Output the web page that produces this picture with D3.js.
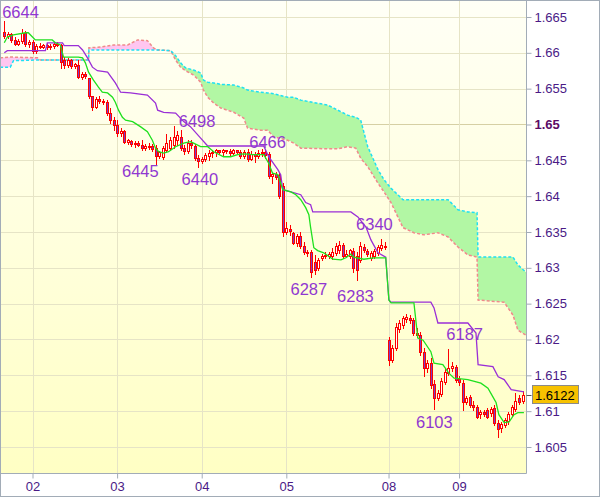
<!DOCTYPE html>
<html><head><meta charset="utf-8">
<script src="https://cdn.jsdelivr.net/npm/d3@7"></script>
<style>html,body{margin:0;padding:0;background:#fff;}svg{display:block;}</style>
</head><body>
<svg id="chart" width="600" height="497"></svg>
<script>
// ---- DATA ----
const opens = [1.6629,1.6624,1.6626,1.6618,1.6612,1.6617,1.6628,1.6612,1.6615,1.6603,
1.6610,1.6608,1.6611,1.6608,1.6610,1.6612,1.6611,1.6590,1.6583,1.6590,
1.6582,1.6583,1.6566,1.6570,1.6565,1.6540,1.6524,1.6536,1.6533,1.6531,
1.6516,1.6506,1.6499,1.6488,1.6491,1.6476,1.6477,1.6473,1.6474,1.6471,
1.6467,1.6470,1.6470,1.6467,1.6456,1.6455,1.6464,1.6467,1.6471,1.6478,
1.6483,1.6467,1.6463,1.6474,1.6470,1.6453,1.6449,1.6452,1.6456,1.6460,
1.6462,1.6464,1.6462,1.6464,1.6463,1.6460,1.6464,1.6462,1.6456,1.6462,
1.6452,1.6459,1.6456,1.6460,1.6462,1.6459,1.6428,1.6431,1.6430,1.6414,
1.6350,1.6354,1.6349,1.6335,1.6344,1.6330,1.6322,1.6322,1.6308,1.6300,
1.6314,1.6317,1.6317,1.6317,1.6321,1.6325,1.6332,1.6317,1.6317,1.6324,
1.6317,1.6311,1.6329,1.6324,1.6314,1.6317,1.6321,1.6328,1.6330,1.6199,
1.6171,1.6188,1.6215,1.6220,1.6229,1.6230,1.6227,1.6209,1.6206,1.6183,
1.6160,1.6167,1.6138,1.6118,1.6124,1.6141,1.6153,1.6160,1.6162,1.6145,
1.6139,1.6113,1.6120,1.6109,1.6106,1.6096,1.6099,1.6102,1.6098,1.6105,
1.6084,1.6077,1.6081,1.6086,1.6096,1.6103,1.6118,1.6114];
const highs = [1.6644,1.6629,1.6628,1.6622,1.6619,1.6633,1.6630,1.6618,1.6618,1.6612,
1.6614,1.6612,1.6614,1.6612,1.6615,1.6615,1.6612,1.6594,1.6593,1.6591,
1.6586,1.6590,1.6573,1.6573,1.6565,1.6540,1.6538,1.6540,1.6536,1.6534,
1.6523,1.6510,1.6506,1.6495,1.6492,1.6480,1.6478,1.6477,1.6477,1.6478,
1.6473,1.6474,1.6473,1.6471,1.6463,1.6470,1.6487,1.6483,1.6498,1.6491,
1.6492,1.6471,1.6478,1.6478,1.6473,1.6458,1.6455,1.6460,1.6464,1.6464,
1.6466,1.6465,1.6466,1.6465,1.6466,1.6466,1.6465,1.6464,1.6464,1.6466,
1.6463,1.6462,1.6464,1.6466,1.6464,1.6462,1.6434,1.6434,1.6434,1.6418,
1.6364,1.6360,1.6350,1.6347,1.6350,1.6336,1.6325,1.6325,1.6318,1.6314,
1.6319,1.6322,1.6322,1.6328,1.6335,1.6337,1.6335,1.6325,1.6326,1.6328,
1.6322,1.6336,1.6333,1.6326,1.6324,1.6326,1.6332,1.6340,1.6336,1.6204,
1.6192,1.6223,1.6227,1.6233,1.6236,1.6234,1.6230,1.6216,1.6211,1.6188,
1.6171,1.6174,1.6144,1.6130,1.6146,1.6160,1.6187,1.6169,1.6165,1.6149,
1.6144,1.6121,1.6123,1.6114,1.6109,1.6102,1.6102,1.6105,1.6106,1.6109,
1.6088,1.6085,1.6091,1.6099,1.6109,1.6125,1.6123,1.6128];
const lows = [1.6621,1.6621,1.6615,1.6611,1.6611,1.6614,1.6610,1.6608,1.6600,1.6600,
1.6607,1.6607,1.6605,1.6605,1.6607,1.6610,1.6579,1.6579,1.6580,1.6579,
1.6579,1.6565,1.6563,1.6565,1.6537,1.6520,1.6523,1.6530,1.6529,1.6513,
1.6502,1.6492,1.6484,1.6484,1.6474,1.6473,1.6470,1.6469,1.6470,1.6464,
1.6464,1.6466,1.6463,1.6445,1.6453,1.6452,1.6462,1.6464,1.6467,1.6471,
1.6464,1.6459,1.6460,1.6467,1.6450,1.6440,1.6446,1.6449,1.6450,1.6455,
1.6456,1.6459,1.6458,1.6460,1.6458,1.6459,1.6460,1.6453,1.6453,1.6449,
1.6450,1.6448,1.6453,1.6456,1.6453,1.6425,1.6418,1.6424,1.6397,1.6344,
1.6347,1.6346,1.6333,1.6330,1.6328,1.6319,1.6317,1.6287,1.6291,1.6297,
1.6311,1.6314,1.6314,1.6312,1.6318,1.6321,1.6314,1.6315,1.6314,1.6294,
1.6283,1.6308,1.6322,1.6317,1.6311,1.6314,1.6318,1.6325,1.6326,1.6165,
1.6169,1.6185,1.6211,1.6216,1.6225,1.6223,1.6206,1.6204,1.6178,1.6149,
1.6155,1.6132,1.6103,1.6116,1.6121,1.6138,1.6151,1.6156,1.6141,1.6137,
1.6102,1.6110,1.6106,1.6102,1.6091,1.6091,1.6093,1.6091,1.6093,1.6081,
1.6064,1.6071,1.6078,1.6082,1.6093,1.6100,1.6110,1.6112];
const closes = [1.6624,1.6626,1.6618,1.6612,1.6617,1.6628,1.6612,1.6615,1.6603,1.6610,
1.6608,1.6611,1.6608,1.6610,1.6612,1.6611,1.6587,1.6583,1.6590,1.6582,
1.6584,1.6566,1.6570,1.6568,1.6540,1.6524,1.6536,1.6533,1.6531,1.6516,
1.6506,1.6499,1.6488,1.6491,1.6476,1.6478,1.6473,1.6474,1.6471,1.6467,
1.6470,1.6469,1.6466,1.6456,1.6462,1.6467,1.6474,1.6478,1.6483,1.6485,
1.6467,1.6463,1.6474,1.6471,1.6453,1.6449,1.6452,1.6458,1.6460,1.6462,
1.6464,1.6462,1.6464,1.6463,1.6460,1.6464,1.6462,1.6456,1.6462,1.6452,
1.6459,1.6456,1.6460,1.6462,1.6458,1.6428,1.6431,1.6427,1.6400,1.6350,
1.6356,1.6351,1.6335,1.6344,1.6330,1.6322,1.6321,1.6294,1.6297,1.6311,
1.6317,1.6318,1.6319,1.6322,1.6330,1.6332,1.6317,1.6319,1.6325,1.6300,
1.6297,1.6330,1.6325,1.6319,1.6321,1.6324,1.6329,1.6332,1.6329,1.6171,
1.6188,1.6218,1.6223,1.6230,1.6232,1.6227,1.6209,1.6206,1.6183,1.6160,
1.6167,1.6137,1.6118,1.6125,1.6142,1.6155,1.6160,1.6163,1.6144,1.6141,
1.6113,1.6118,1.6109,1.6106,1.6092,1.6099,1.6096,1.6092,1.6103,1.6084,
1.6075,1.6082,1.6088,1.6096,1.6106,1.6114,1.6113,1.6122];

// Tenkan-sen (green) and Kijun-sen (purple): [candle index, price]
const tenkan = [[0,1.6614],[0.85,1.6622],[2.6,1.6625],[6,1.6628],[6.8,1.6628],[8,1.6622],[8.8,1.6618],[13.6,1.6618],[14.5,1.6614],[15.9,1.6611],[16.8,1.6594],[21,1.6594],[22.2,1.6593],[23,1.6586],[23.9,1.6573],[25.3,1.6562],[26.7,1.6552],[27.8,1.6545],[29.3,1.6544],[30.7,1.6538],[31.5,1.6531],[32.4,1.6520],[33.5,1.6510],[34.4,1.6506],[36.4,1.6504],[38.6,1.6497],[40.6,1.6490],[42,1.6478],[42.9,1.6467],[43.8,1.6462],[45.2,1.6460],[46.6,1.6462],[48.6,1.6469],[50.9,1.6474],[52.8,1.6476],[53.7,1.6474],[55.7,1.6469],[57.7,1.6469],[59.4,1.6462],[62.2,1.6455],[64.2,1.6455],[66.2,1.6458],[67.9,1.6459],[70.5,1.6458],[73.6,1.6458],[75,1.6446],[76.1,1.6432],[77.6,1.6430],[79,1.6409],[81.3,1.6406],[82.7,1.6402],[84.1,1.6395],[85.5,1.6384],[86.4,1.6374],[86.9,1.6356],[87.8,1.6328],[88.9,1.6324],[90.6,1.6321],[93.2,1.6312],[95.5,1.6311],[96.9,1.6314],[98.3,1.6319],[99.1,1.6315],[102,1.6312],[104.8,1.6314],[108.2,1.6314],[109.1,1.6255],[109.7,1.6251],[116.2,1.6251],[117.3,1.6202],[118.8,1.6199],[121,1.6183],[121.9,1.6167],[124.4,1.6165],[126.1,1.6153],[127.6,1.6146],[131.5,1.6144],[135.2,1.6139],[137.2,1.6132],[138.6,1.6120],[139.5,1.6112],[140.3,1.6095],[141.8,1.6084],[143.2,1.6085],[144.6,1.6095],[145.7,1.6098],[147.4,1.6098]];
const kijun = [[0,1.6600],[0.85,1.6603],[11.65,1.6603],[12.2,1.6614],[16.5,1.6614],[17,1.6610],[21,1.6610],[22.2,1.6604],[23.6,1.6593],[25,1.6580],[26.4,1.6575],[29.3,1.6573],[31.5,1.6558],[33,1.6545],[35.8,1.6544],[40.6,1.6541],[42.9,1.6530],[43.5,1.6520],[45.2,1.6517],[48.6,1.6516],[50.9,1.6504],[52.8,1.6497],[55.7,1.6481],[57.7,1.6470],[73.6,1.6470],[75,1.6455],[77.6,1.6437],[78.4,1.6430],[79,1.6409],[81.3,1.6406],[84.1,1.6402],[85.5,1.6391],[86.9,1.6388],[87.5,1.6378],[98.3,1.6378],[100.3,1.6371],[102.6,1.6357],[104,1.6339],[106,1.6321],[108.2,1.6315],[109.1,1.6255],[109.7,1.6252],[121,1.6252],[121.9,1.6244],[123,1.6223],[131.5,1.6223],[133.8,1.6209],[134.4,1.6165],[138.6,1.6162],[140.1,1.6148],[141.8,1.6144],[143.8,1.6130],[147.4,1.6127]];

// Cloud (Senkou span A = cyan, span B = salmon)
const cloudIdx = [-1.2,1.7,2.6,9.4,10.2,23.9,24.0,27.3,31,35,37.8,40.6,42.3,43.5,47.2,48.6,50,51.4,53.7,55.7,56.5,57.7,59.4,61.4,65.1,67.9,69,72.7,74.7,76.4,80.4,82.1,84.1,91.8,94.6,97.4,99.7,101.1,103.1,106,107.7,109.7,113.1,116.2,119,123,125.9,128.7,131.5,134.1,134.4,141.8,144.3,145.7,148.6];
const spanA = [1.6580,1.6580,1.6589,1.6590,1.6590,1.6590,1.6604,1.6604,1.6604,1.6604,1.6604,1.6604,1.6604,1.6604,1.6603,1.6596,1.6586,1.6579,1.6576,1.6572,1.6562,1.6559,1.6558,1.6556,1.6555,1.6551,1.6548,1.6545,1.6544,1.6543,1.6538,1.6538,1.6534,1.6527,1.6520,1.6513,1.6510,1.6506,1.6469,1.6437,1.6423,1.6411,1.6395,1.6395,1.6395,1.6395,1.6395,1.6381,1.6378,1.6377,1.6315,1.6315,1.6315,1.6304,1.6291];
const spanB = [1.6593,1.6594,1.6594,1.6593,1.6590,1.6590,1.6607,1.6608,1.6611,1.6611,1.6618,1.6617,1.6607,1.6604,1.6603,1.6590,1.6580,1.6575,1.6569,1.6559,1.6548,1.6538,1.6530,1.6523,1.6517,1.6509,1.6495,1.6492,1.6492,1.6483,1.6478,1.6474,1.6467,1.6466,1.6466,1.6469,1.6467,1.6453,1.6441,1.6418,1.6406,1.6391,1.6356,1.6349,1.6346,1.6349,1.6343,1.6329,1.6318,1.6315,1.6255,1.6252,1.6234,1.6213,1.6204];

// Axes
const dayTickIdx = [8,32,56,80,109,129];
const dayTickLabels = ["02","03","04","05","08","09"];
const priceTicks = [1.605,1.61,1.615,1.62,1.625,1.63,1.635,1.64,1.645,1.65,1.655,1.66,1.665];
const boldTick = 1.65;
const lastPrice = 1.6122;

// Swing labels: text, anchor index, anchor price (baseline)
const labelTexts = ["6644","6498","6445","6440","6466","6340","6287","6283","6187","6103"];
const labelIdx = [4.6,54.7,38.6,55.5,74.7,105.0,86.4,99.6,130.6,122.0];
const labelLevel = [1.6649,1.6497,1.6427,1.6416,1.6467,1.6353,1.6262,1.6252,1.6199,1.6077];

// ---- DRAW ----
const W = 600, H = 497;
const plotR = 526.5, plotB = 473.5;
const svg = d3.select("#chart");
const x = d3.scaleLinear().domain([0,147]).range([4.3,522.5]);
const y = d3.scaleLinear().domain([1.60137,1.66737]).range([473,0]);

svg.append("rect").attr("width",W).attr("height",H).attr("fill","#fff");
const defs = svg.append("defs");
const grad = defs.append("linearGradient").attr("id","bg").attr("x1",0).attr("y1",0).attr("x2",0).attr("y2",1);
grad.append("stop").attr("offset","0%").attr("stop-color","#fffff6");
grad.append("stop").attr("offset","100%").attr("stop-color","#ffffc4");
defs.append("clipPath").attr("id","plotclip").append("rect").attr("x",1).attr("y",1).attr("width",plotR-1).attr("height",plotB-1);

svg.append("rect").attr("x",1).attr("y",1).attr("width",plotR-1).attr("height",plotB-1).attr("fill","url(#bg)");

const plot = svg.append("g").attr("clip-path","url(#plotclip)");

// grid
plot.selectAll("line.hg").data(priceTicks).join("line")
  .attr("x1",0).attr("x2",plotR)
  .attr("y1",d=>Math.round(y(d))+0.5).attr("y2",d=>Math.round(y(d))+0.5)
  .attr("stroke",d=>d===boldTick?"#d6d0a4":"#e6e4c6").attr("stroke-width",1);
plot.selectAll("line.vg").data(dayTickIdx).join("line")
  .attr("y1",0).attr("y2",plotB)
  .attr("x1",d=>Math.round(x(d))+0.5).attr("x2",d=>Math.round(x(d))+0.5)
  .attr("stroke","#e6e4c6").attr("stroke-width",1);

// cloud
const cloud = cloudIdx.map((i,k)=>({i, a:spanA[k], b:spanB[k]}));
defs.append("clipPath").attr("id","aboveB").append("path")
  .attr("d", d3.area().x(d=>x(d.i)).y0(-10).y1(d=>y(d.b))(cloud));
defs.append("clipPath").attr("id","belowB").append("path")
  .attr("d", d3.area().x(d=>x(d.i)).y0(d=>y(d.b)).y1(H+10)(cloud));
const between = d3.area().x(d=>x(d.i)).y0(d=>y(d.a)).y1(d=>y(d.b));
plot.append("g").attr("clip-path","url(#aboveB)").append("path").attr("d",between(cloud)).attr("fill","#b2f7a4");
plot.append("g").attr("clip-path","url(#belowB)").append("path").attr("d",between(cloud)).attr("fill","#ffc6f0");
plot.append("path").attr("d", d3.line().x(d=>x(d.i)).y(d=>y(d.b))(cloud))
  .attr("fill","none").attr("stroke","#f08a8a").attr("stroke-width",1.5).attr("stroke-dasharray","3,2");
plot.append("path").attr("d", d3.line().x(d=>x(d.i)).y(d=>y(d.a))(cloud))
  .attr("fill","none").attr("stroke","#1ee0f4").attr("stroke-width",1.5).attr("stroke-dasharray","3,2");

// candles
const candles = opens.map((o,i)=>({i,o,h:highs[i],l:lows[i],c:closes[i]}));
const cg = plot.append("g");
cg.selectAll("line.w").data(candles).join("line")
  .attr("x1",d=>Math.round(x(d.i))+0.5).attr("x2",d=>Math.round(x(d.i))+0.5)
  .attr("y1",d=>Math.round(y(d.h))).attr("y2",d=>Math.round(y(d.l))+1)
  .attr("stroke","#ff0000").attr("stroke-width",1);
cg.selectAll("rect.b").data(candles).join("rect")
  .attr("x",d=>Math.round(x(d.i))-0.5).attr("width",2)
  .attr("y",d=>Math.round(y(Math.max(d.o,d.c)))+0.5)
  .attr("height",d=>Math.max(1,Math.round(y(Math.min(d.o,d.c)))-Math.round(y(Math.max(d.o,d.c)))))
  .attr("fill",d=>d.c>=d.o?"#ffffff":"#7a3cc8")
  .attr("stroke","#ff0000").attr("stroke-width",1);

// lines
plot.append("path").attr("d", d3.line().x(d=>x(d[0])).y(d=>y(d[1]))(kijun))
  .attr("fill","none").attr("stroke","#9a2fd6").attr("stroke-width",1.3);
plot.append("path").attr("d", d3.line().x(d=>x(d[0])).y(d=>y(d[1]))(tenkan))
  .attr("fill","none").attr("stroke","#1fe01f").attr("stroke-width",1.3);

// labels
plot.selectAll("text.lbl").data(labelTexts).join("text")
  .attr("x",(d,k)=>x(labelIdx[k])).attr("y",(d,k)=>y(labelLevel[k]))
  .attr("text-anchor","middle")
  .attr("font-family","Liberation Sans, Arial, sans-serif").attr("font-size",16.5)
  .attr("fill","#9038d0").text(d=>d);

// frame
svg.append("line").attr("x1",plotR).attr("x2",plotR).attr("y1",0).attr("y2",plotB).attr("stroke","#a2acb7");
svg.append("line").attr("x1",0).attr("x2",plotR).attr("y1",plotB).attr("y2",plotB).attr("stroke","#a2acb7");
svg.append("rect").attr("x",0.5).attr("y",0.5).attr("width",W-1).attr("height",H-1).attr("fill","none").attr("stroke","#a2acb7");

// y axis
const yAxis = svg.append("g").attr("transform",`translate(${plotR},0)`)
  .call(d3.axisRight(y).tickValues(priceTicks).tickSize(5).tickPadding(3).tickFormat(d=>String(+d.toFixed(3))));
yAxis.select(".domain").remove();
yAxis.selectAll(".tick line").attr("stroke","#a2acb7");
yAxis.selectAll(".tick text").attr("font-family","Liberation Sans, Arial, sans-serif").attr("font-size",13)
  .attr("fill",d=>d===boldTick?"#5c0a66":"#4a1a86").attr("font-weight",d=>d===boldTick?"bold":"normal");

// x axis
const xAxis = svg.append("g").attr("transform",`translate(0,${plotB})`)
  .call(d3.axisBottom(x).tickValues(dayTickIdx).tickSize(5).tickPadding(3).tickFormat((d,k)=>dayTickLabels[k]));
xAxis.select(".domain").remove();
xAxis.selectAll(".tick line").attr("stroke","#a2acb7");
xAxis.selectAll(".tick text").attr("font-family","Liberation Sans, Arial, sans-serif").attr("font-size",13).attr("fill","#4a1a86");

// last price tag
const ly = y(lastPrice);
svg.append("line").attr("x1",plotR).attr("x2",plotR+5).attr("y1",Math.round(ly)+0.5).attr("y2",Math.round(ly)+0.5).attr("stroke","#555");
svg.append("rect").attr("x",532.5).attr("y",Math.round(ly)-9.5).attr("width",46).attr("height",18)
  .attr("fill","#f7c200").attr("stroke","#8a8a8a");
svg.append("text").attr("x",535).attr("y",ly).attr("dy","0.35em")
  .attr("font-family","Liberation Sans, Arial, sans-serif").attr("font-size",13).attr("fill","#000").text(lastPrice.toFixed(4));
</script>
</body></html>
